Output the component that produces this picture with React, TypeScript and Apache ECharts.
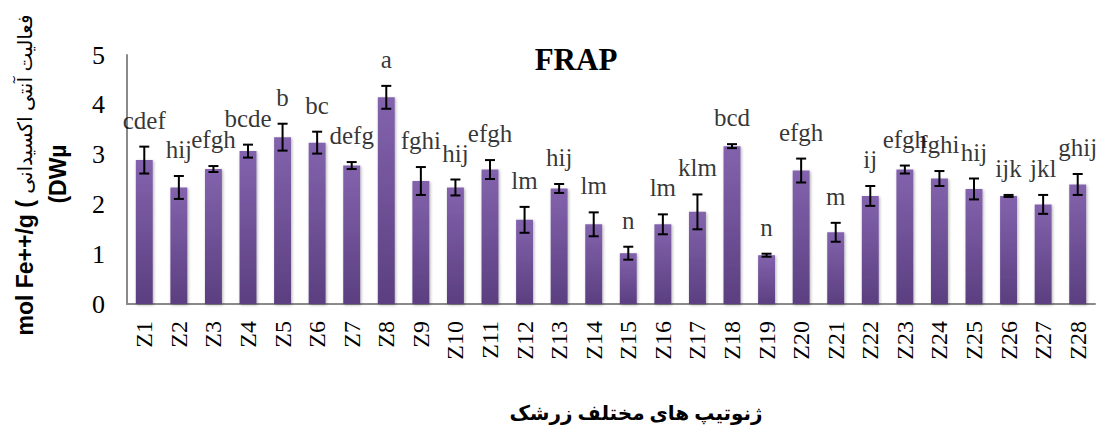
import React, { useEffect, useRef } from "react";
import * as echarts from "echarts";

const categories = ["Z1","Z2","Z3","Z4","Z5","Z6","Z7","Z8","Z9","Z10","Z11","Z12","Z13","Z14","Z15","Z16","Z17","Z18","Z19","Z20","Z21","Z22","Z23","Z24","Z25","Z26","Z27","Z28"];
const values = [2.89,2.34,2.71,3.07,3.35,3.24,2.78,4.15,2.47,2.34,2.70,1.69,2.32,1.60,1.02,1.60,1.85,3.17,0.98,2.68,1.44,2.17,2.70,2.52,2.31,2.17,2.00,2.40];
const errors = [0.27,0.23,0.06,0.13,0.27,0.22,0.07,0.23,0.28,0.16,0.19,0.26,0.09,0.24,0.13,0.20,0.35,0.04,0.03,0.24,0.19,0.20,0.08,0.15,0.21,0.02,0.19,0.21];
const letters = ["cdef","hij","efgh","bcde","b","bc","defg","a","fghi","hij","efgh","lm","hij","lm","n","lm","klm","bcd","n","efgh","m","ij","efgh","fghi","hij","ijk","jkl","ghij"];
const yTicks = [0, 1, 2, 3, 4, 5];

const serif = "Liberation Serif, Times New Roman, serif";
const sans = "Liberation Sans, Arial, sans-serif";

export default function App() {
  const ref = useRef<HTMLDivElement>(null);
  useEffect(() => {
    if (!ref.current) return;
    const chart = echarts.init(ref.current, null, { renderer: "svg" });
    const errData = values.map((v, i) => [i, v, errors[i]]);
    const labelData = values.map((v, i) => ({ value: [i, v + errors[i]], name: letters[i] }));
    chart.setOption({
      animation: false,
      title: {
        text: "FRAP",
        left: 571,
        top: 39,
        textAlign: "center",
        textStyle: { fontFamily: serif, fontWeight: "bold", fontSize: 31, color: "#000" },
      },
      grid: { left: 127, right: 6, top: 55, bottom: 125 },
      xAxis: {
        type: "category",
        data: categories,
        axisLine: { lineStyle: { color: "#8a8a8a", width: 2 } },
        axisTick: { show: false },
        axisLabel: { rotate: 90, margin: 17, fontFamily: serif, fontSize: 24, color: "#000" },
      },
      yAxis: {
        type: "value",
        min: yTicks[0],
        max: yTicks[yTicks.length - 1],
        interval: 1,
        splitLine: { show: false },
        axisLine: { show: true, lineStyle: { color: "#8a8a8a", width: 2 } },
        axisTick: { show: false },
        axisLabel: { margin: 22, fontFamily: serif, fontSize: 26, color: "#000" },
      },
      graphic: [
        {
          type: "text",
          x: 25,
          y: 175,
          rotation: Math.PI / 2,
          style: {
            text: "{a|mol Fe++/g ( }{b|فعالیت آنتی اکسیدانی}",
            align: "center",
            verticalAlign: "middle",
            rich: {
              a: { fontFamily: sans, fontWeight: "bold", fontSize: 23, fill: "#000" },
              b: { fontFamily: "Arial, DejaVu Sans, sans-serif", fontSize: 20, fill: "#000" },
            },
          },
        },
        {
          type: "text",
          x: 58,
          y: 174,
          rotation: Math.PI / 2,
          style: {
            text: "(DWµ",
            align: "center",
            verticalAlign: "middle",
            fontFamily: sans,
            fontWeight: "bold",
            fontSize: 23,
            fill: "#000",
          },
        },
        {
          type: "text",
          x: 636,
          y: 413,
          style: {
            text: "ژنوتیپ های مختلف زرشک",
            align: "center",
            verticalAlign: "middle",
            fontFamily: "Times New Roman, DejaVu Sans, serif",
            fontWeight: "bold",
            fontSize: 20,
            fill: "#000",
          },
        },
      ],
      series: [
        {
          type: "bar",
          data: values,
          barWidth: "49%",
          itemStyle: {
            color: new echarts.graphic.LinearGradient(0, 0, 0, 1, [
              { offset: 0, color: "#8363ad" },
              { offset: 1, color: "#5b3f80" },
            ]),
            shadowBlur: 3,
            shadowColor: "rgba(0,0,0,0.3)",
            shadowOffsetX: 1,
            shadowOffsetY: 1,
          },
        },
        {
          type: "custom",
          data: errData,
          z: 5,
          renderItem: (params: any, api: any) => {
            const i = api.value(0);
            const v = api.value(1);
            const e = api.value(2);
            const hi = api.coord([i, v + e]);
            const lo = api.coord([i, v - e]);
            const cw = 5;
            const style = { stroke: "#000", lineWidth: 2 };
            return {
              type: "group",
              children: [
                { type: "line", shape: { x1: hi[0], y1: hi[1], x2: lo[0], y2: lo[1] }, style },
                { type: "line", shape: { x1: hi[0] - cw, y1: hi[1], x2: hi[0] + cw, y2: hi[1] }, style },
                { type: "line", shape: { x1: lo[0] - cw, y1: lo[1], x2: lo[0] + cw, y2: lo[1] }, style },
              ],
            };
          },
        },
        {
          type: "scatter",
          data: labelData,
          symbolSize: 0,
          z: 6,
          label: {
            show: true,
            position: "top",
            distance: 14,
            formatter: (p: any) => p.name,
            fontFamily: serif,
            fontSize: 25,
            color: "#000",
          },
        },
      ],
    });
    return () => chart.dispose();
  }, []);
  return <div ref={ref} style={{ position: "absolute", left: 0, top: 0, width: 1101, height: 429 }} />;
}
